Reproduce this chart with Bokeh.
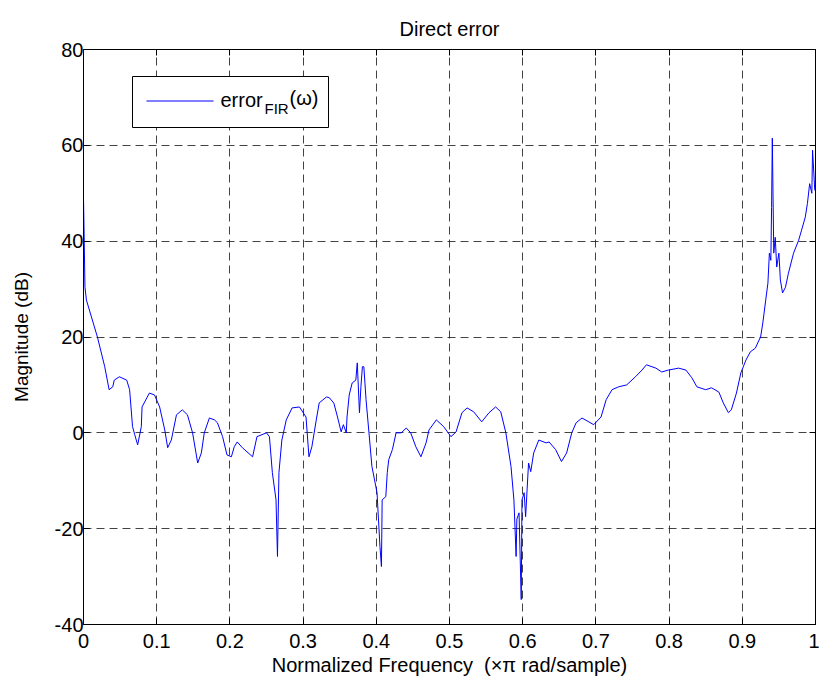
from bokeh.plotting import figure
from bokeh.models import LinearAxis, BoxAnnotation, Label, FixedTicker, Range1d
from bokeh.embed import file_html
from bokeh.resources import INLINE

freq = [0.0, 0.001, 0.002, 0.004, 0.019, 0.029, 0.035, 0.040, 0.042, 0.049, 0.059, 0.063,
        0.067, 0.070, 0.074, 0.079, 0.080, 0.090, 0.097, 0.104, 0.111, 0.115, 0.120, 0.127,
        0.135, 0.142, 0.149, 0.156, 0.161, 0.165, 0.172, 0.179, 0.183, 0.190, 0.196, 0.202,
        0.206, 0.210, 0.217, 0.231, 0.237, 0.250, 0.254, 0.258, 0.263, 0.265, 0.267, 0.271,
        0.277, 0.285, 0.295, 0.304, 0.308, 0.312, 0.318, 0.322, 0.332, 0.336, 0.342, 0.347,
        0.352, 0.355, 0.359, 0.360, 0.363, 0.367, 0.372, 0.374, 0.377, 0.379, 0.381, 0.383,
        0.386, 0.390, 0.394, 0.401, 0.405, 0.407, 0.408, 0.413, 0.415, 0.417, 0.422, 0.427,
        0.434, 0.441, 0.447, 0.454, 0.461, 0.468, 0.472, 0.482, 0.492, 0.502, 0.509, 0.517,
        0.524, 0.533, 0.544, 0.554, 0.563, 0.570, 0.577, 0.584, 0.588, 0.591, 0.592, 0.595,
        0.598, 0.599, 0.602, 0.604, 0.606, 0.608, 0.611, 0.615, 0.622, 0.632, 0.636, 0.645,
        0.653, 0.660, 0.667, 0.673, 0.681, 0.697, 0.707, 0.714, 0.722, 0.731, 0.742, 0.754,
        0.763, 0.769, 0.782, 0.790, 0.799, 0.813, 0.823, 0.831, 0.838, 0.850, 0.858, 0.868,
        0.874, 0.881, 0.885, 0.892, 0.898, 0.905, 0.911, 0.918, 0.921, 0.925, 0.928, 0.932,
        0.935, 0.937, 0.939, 0.940, 0.941, 0.943, 0.945, 0.947, 0.950, 0.952, 0.955, 0.959,
        0.963, 0.970, 0.977, 0.981, 0.986, 0.989, 0.992, 0.995, 0.996, 0.999]
error_db = [49.0, 40.0, 30.4, 27.7, 20.0, 13.8, 9.0, 9.6, 11.0, 11.7, 11.0, 9.0,
            1.3, -0.4, -2.5, 1.3, 5.4, 8.3, 7.9, 5.4, 0.6, -3.1, -1.5, 3.75,
            4.8, 3.75, 0.0, -6.3, -4.2, 0.0, 3.1, 2.7, 2.1, -0.8, -4.6, -5.0,
            -2.9, -1.9, -3.1, -5.0, -0.8, 0.0, -0.8, -8.3, -14.0, -25.8, -8.3, -1.5,
            2.7, 5.2, 5.4, 3.3, -5.0, -2.9, 2.7, 6.25, 7.5, 7.3, 6.2, 3.3,
            0.2, 1.7, 0.0, 3.3, 7.9, 10.4, 11.0, 14.6, 4.2, 9.6, 13.8, 13.8,
            6.9, 0.0, -7.0, -12.5, -23.7, -27.9, -14.0, -13.3, -8.3, -5.6, -3.5, 0.0,
            0.0, 1.0, 0.0, -2.9, -5.0, -2.1, 0.6, 2.7, 1.3, -0.8, 0.2, 4.2,
            5.2, 4.4, 2.3, 4.2, 5.4, 4.4, 0.0, -7.0, -14.0, -25.8, -18.0, -16.7,
            -34.8, -14.0, -12.5, -17.5, -11.9, -6.3, -8.1, -4.2, -1.5, -2.1, -1.9, -3.5,
            -6.0, -4.2, 0.0, 2.1, 3.1, 1.7, 3.3, 6.9, 9.0, 9.6, 10.0, 11.7,
            13.1, 14.2, 13.5, 12.7, 13.1, 13.5, 13.1, 11.5, 9.6, 9.0, 9.4, 8.5,
            6.25, 4.2, 4.8, 8.3, 12.5, 15.2, 16.9, 17.7, 18.75, 20.0, 22.9, 27.7,
            31.25, 37.5, 36.0, 47.0, 61.5, 37.5, 40.8, 34.6, 37.5, 31.9, 29.2, 30.4,
            33.3, 37.5, 40.2, 42.3, 45.0, 47.9, 52.0, 50.0, 59.0, 50.6]

x_ticks = [0, 0.1, 0.2, 0.3, 0.4, 0.5, 0.6, 0.7, 0.8, 0.9, 1]
y_ticks = [-40, -20, 0, 20, 40, 60, 80]
x_tick_labels = ["0", "0.1", "0.2", "0.3", "0.4", "0.5", "0.6", "0.7", "0.8", "0.9", "1"]
y_tick_labels = ["-40", "-20", "0", "20", "40", "60", "80"]
title_text = "Direct error"
xlabel = "Normalized Frequency\u00a0\u00a0(\u00d7\u03c0 rad/sample)"
ylabel = "Magnitude (dB)"
legend_main = "error"
legend_sub = "FIR"
legend_tail = "(\u03c9)"

FONT = "Liberation Sans"
FH = 575  # frame height in px

p = figure(frame_width=732, frame_height=FH, output_backend="svg", toolbar_location=None,
           x_range=Range1d(0, 1), y_range=Range1d(-40, 80),
           min_border_left=83, min_border_right=4, min_border_top=49, min_border_bottom=64,
           x_axis_location=None, y_axis_location=None)
p.background_fill_color = "white"
p.border_fill_color = "white"
p.outline_line_color = "black"
p.outline_line_width = 1

def style_axis(ax, ticks, labels, show):
    ax.ticker = FixedTicker(ticks=ticks)
    ax.major_label_overrides = {t: l for t, l in zip(ticks, labels)}
    ax.major_tick_in = 6
    ax.major_tick_out = 0
    ax.minor_tick_in = 0
    ax.minor_tick_out = 0
    ax.axis_line_color = "black"
    ax.major_tick_line_color = "black"
    ax.major_label_text_font = FONT
    ax.major_label_text_font_size = "20px"
    ax.major_label_text_color = "black" if show else None
    ax.axis_label_text_font = FONT
    ax.axis_label_text_font_size = "20px"
    ax.axis_label_text_font_style = "normal"
    ax.axis_label_text_color = "black"

bx = LinearAxis(axis_label=xlabel)
tx = LinearAxis()
ly = LinearAxis(axis_label=ylabel)
ry = LinearAxis()
style_axis(bx, x_ticks, x_tick_labels, True)
style_axis(tx, x_ticks, x_tick_labels, False)
style_axis(ly, y_ticks, y_tick_labels, True)
style_axis(ry, y_ticks, y_tick_labels, False)
ly.axis_label_text_font_size = "19px"
bx.major_label_standoff = 9
bx.axis_label_standoff = 3
ly.major_label_standoff = 0
ly.axis_label_standoff = 20
p.add_layout(bx, "below")
p.add_layout(tx, "above")
p.add_layout(ly, "left")
p.add_layout(ry, "right")

p.title.text = title_text
p.title.align = "center"
p.title.text_font = FONT
p.title.text_font_size = "20px"
p.title.text_font_style = "normal"
p.title.text_color = "black"
p.title.offset = 0
p.title.standoff = 20

p.xgrid.ticker = FixedTicker(ticks=x_ticks)
p.ygrid.ticker = FixedTicker(ticks=y_ticks)
for g in (p.xgrid, p.ygrid):
    g.grid_line_color = "#222222"
    g.grid_line_dash = "8 5"
    g.grid_line_width = 1
    g.grid_line_alpha = 0.85

p.line(freq, error_db, line_color="#0000ff", line_width=1)

# legend drawn in screen units (y measured from the frame bottom)
p.add_layout(BoxAnnotation(left=49, right=245, top=FH - 27, bottom=FH - 78, left_units="screen",
                           right_units="screen", top_units="screen", bottom_units="screen",
                           fill_color="white", fill_alpha=1, line_color="black", line_alpha=1,
                           line_width=1))
p.add_layout(BoxAnnotation(left=63, right=130, top=FH - 51, bottom=FH - 52, left_units="screen",
                           right_units="screen", top_units="screen", bottom_units="screen",
                           fill_color="#0000ff", fill_alpha=1, line_color=None))
lab_style = dict(x_units="screen", y_units="screen", text_font=FONT, text_color="black",
                 text_baseline="middle")
p.add_layout(Label(x=137, y=FH - 50, text=legend_main, text_font_size="20px", **lab_style))
p.add_layout(Label(x=181, y=FH - 59, text=legend_sub, text_font_size="15px", **lab_style))
p.add_layout(Label(x=206, y=FH - 48, text=legend_tail, text_font_size="20px", **lab_style))

open("out.html", "w").write(file_html(p, INLINE))
